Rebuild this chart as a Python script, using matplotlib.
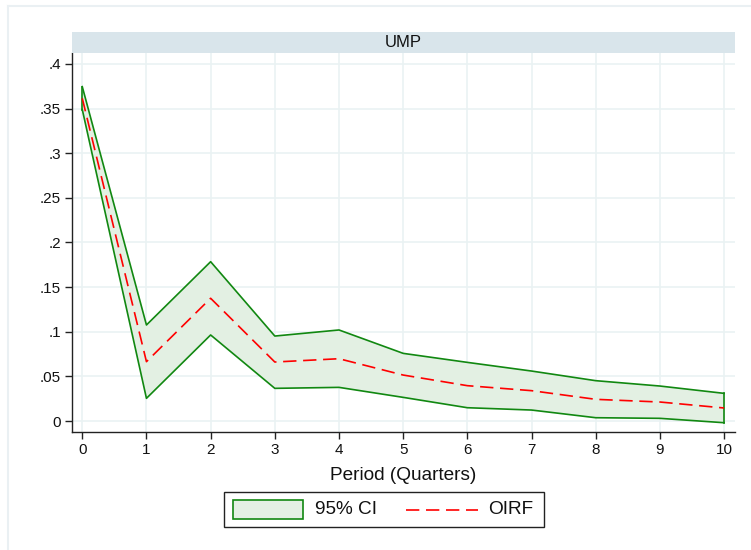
import matplotlib
matplotlib.use("Agg")
import matplotlib.pyplot as plt
from matplotlib.patches import Rectangle
from matplotlib.lines import Line2D

plt.rcParams['font.family'] = ['Liberation Sans', 'DejaVu Sans']

# Orthogonalized impulse response of UMP with 95% confidence band
periods = [0, 1, 2, 3, 4, 5, 6, 7, 8, 9, 10]
oirf = [0.3615, 0.0665, 0.1375, 0.0661, 0.0698, 0.0515, 0.0396, 0.0340, 0.0243, 0.0213, 0.0146]
ci_upper = [0.3746, 0.1076, 0.1785, 0.0952, 0.1020, 0.0758, 0.0657, 0.0560, 0.0452, 0.0392, 0.0310]
ci_lower = [0.3490, 0.0254, 0.0964, 0.0366, 0.0377, 0.0265, 0.0149, 0.0123, 0.0037, 0.0030, -0.0019]

y_ticks = [0, 0.05, 0.1, 0.15, 0.2, 0.25, 0.3, 0.35, 0.4]
y_tick_labels = ['0', '.05', '.1', '.15', '.2', '.25', '.3', '.35', '.4']
x_ticks = periods
panel_title = 'UMP'
x_label = 'Period (Quarters)'
legend_labels = ['95% CI', 'OIRF']

W, H = 751, 550
fig = plt.figure(figsize=(W / 100, H / 100), dpi=100)
fig.patch.set_facecolor('white')

# faint outer frame lines
frame_col = '#EAF0F3'
fig.add_artist(Line2D([8 / W, 8 / W], [0, 1 - 6 / H], transform=fig.transFigure,
                      color=frame_col, lw=1.5))
fig.add_artist(Line2D([8 / W, 1], [1 - 6 / H, 1 - 6 / H], transform=fig.transFigure,
                      color=frame_col, lw=1.5))

ax_l, ax_r, ax_t, ax_b = 72, 735, 53, 432
ax = fig.add_axes([ax_l / W, 1 - ax_b / H, (ax_r - ax_l) / W, (ax_b - ax_t) / H])

green = '#118811'
dash = (8, 4)
ax.fill_between(periods, ci_lower, ci_upper, facecolor='#E3F0E3', edgecolor='none', zorder=2)
ax.plot(periods, ci_upper, color=green, lw=1.2, zorder=3)
ax.plot(periods, ci_lower, color=green, lw=1.2, zorder=3)
ax.plot([periods[-1], periods[-1]], [ci_lower[-1], ci_upper[-1]], color=green, lw=1.2, zorder=3)
ax.plot([periods[0], periods[0]], [ci_lower[0], ci_upper[0]], color=green, lw=1.2, zorder=3)
ax.plot(periods, oirf, color='#FF0000', lw=1.2, dashes=dash, zorder=4)

ax.set_xlim(-0.16, 10.17)
ax.set_ylim(-0.0123, 0.4123)
ax.set_xticks(x_ticks)
ax.set_xticklabels([str(p) for p in x_ticks])
ax.set_yticks(y_ticks)
ax.set_yticklabels(y_tick_labels)
ax.grid(True, color='#EAF2F3', lw=1.2, zorder=0)
ax.set_axisbelow(True)
for s in ['top', 'right']:
    ax.spines[s].set_visible(False)
for s in ['left', 'bottom']:
    ax.spines[s].set_color('#222222')
    ax.spines[s].set_linewidth(1.0)
ax.tick_params(axis='both', direction='out', length=5, width=1.0, color='#222222',
               labelsize=11, labelcolor='#111111', pad=3)
ax.set_xlabel(x_label, fontsize=13.7, color='#111111', labelpad=7)

# panel strip with title
strip = fig.add_axes([ax_l / W, 1 - 53 / H, (ax_r - ax_l) / W, 21 / H])
strip.set_facecolor('#D9E5EB')
strip.set_xticks([])
strip.set_yticks([])
for s in strip.spines.values():
    s.set_visible(False)
strip.text(0.5, 0.5, panel_title, ha='center', va='center', fontsize=12, color='#111111',
           transform=strip.transAxes)

# legend box
fig.add_artist(Rectangle((224 / W, 1 - 527 / H), (544 - 224) / W, 35 / H,
                         transform=fig.transFigure, facecolor='white',
                         edgecolor='#222222', lw=1.0))
fig.add_artist(Rectangle((233 / W, 1 - 519 / H), 70 / W, 19 / H,
                         transform=fig.transFigure, facecolor='#E3F0E3',
                         edgecolor=green, lw=1.2))
fig.text(315 / W, 1 - 510 / H, legend_labels[0], ha='left', va='center',
         fontsize=13.7, color='#111111')
fig.add_artist(Line2D([406 / W, 478 / W], [1 - 510 / H, 1 - 510 / H],
                      transform=fig.transFigure, color='#FF0000', lw=1.2, dashes=dash))
fig.text(488 / W, 1 - 510 / H, legend_labels[1], ha='left', va='center',
         fontsize=13.7, color='#111111')

fig.savefig('out.png', dpi=100)
